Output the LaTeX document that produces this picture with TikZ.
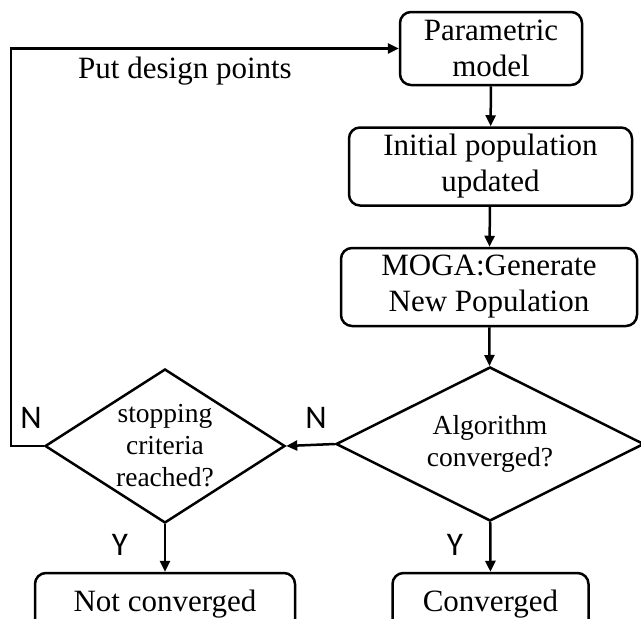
\documentclass[tikz,border=0pt]{standalone}
\usepackage{fontspec}
\setmainfont{Liberation Serif}
\newfontfamily\lblfont{Carlito}
\usetikzlibrary{shapes.geometric,arrows.meta}
\tikzset{
  box/.style={draw,line width=2.5pt,rounded corners=11pt,inner sep=0pt,align=center,
    font=\fontsize{31}{36}\selectfont},
  dec/.style={draw,line width=2.5pt,shape=diamond,inner sep=-6pt,align=center,
    font=\fontsize{27.5}{32}\selectfont},
  conn/.style={line width=2.5pt,-{Triangle[length=11pt,width=10pt]}},
  lbl/.style={font=\lblfont\fontsize{33}{33}\selectfont},
  txt/.style={font=\fontsize{31}{34}\selectfont}
}
\begin{document}
\begin{tikzpicture}[x=1pt,y=-1pt]
\clip (0,0) rectangle (641,619);
\fill[white] (0,0) rectangle (641,619);
\node[box,minimum width=182pt,minimum height=73pt] (pm) at (491,48.5) {Parametric\\model};
\node[box,minimum width=283pt,minimum height=78pt] (ip) at (490.5,166.5) {Initial population\\updated};
\node[box,minimum width=296pt,minimum height=78pt] (mg) at (489,287) {MOGA:Generate\\New Population};
\node[dec,shape aspect=2,minimum width=308pt,minimum height=154pt] (d1) at (490,444) {Algorithm\\converged?};
\node[dec,shape aspect=1.56,minimum width=240pt,minimum height=154pt] (d2) at (165,446) {stopping\\criteria\\reached?};
\node[box,minimum width=260pt,minimum height=62pt] (nc) at (165,604) {Not converged};
\node[box,minimum width=196pt,minimum height=62pt] (cv) at (490.5,604) {Converged};
\coordinate (lc) at (11,446);
\node[txt] (put) at (185,71) {Put design points};
\node[lbl] (n1) at (31,418) {N};
\node[lbl] (n2) at (316,418) {N};
\node[lbl] (y1) at (120,545) {Y};
\node[lbl] (y2) at (455,545) {Y};
\draw[conn] (pm) -- (ip);
\draw[conn] (ip) -- (mg);
\draw[conn] (mg) -- (d1);
\draw[conn] (d1.west) -- (d2.east);
\draw[conn] (d1) -- (cv);
\draw[conn] (d2) -- (nc);
\draw[conn] (d2.west) -- (lc) |- (pm.west);
\end{tikzpicture}
\end{document}
